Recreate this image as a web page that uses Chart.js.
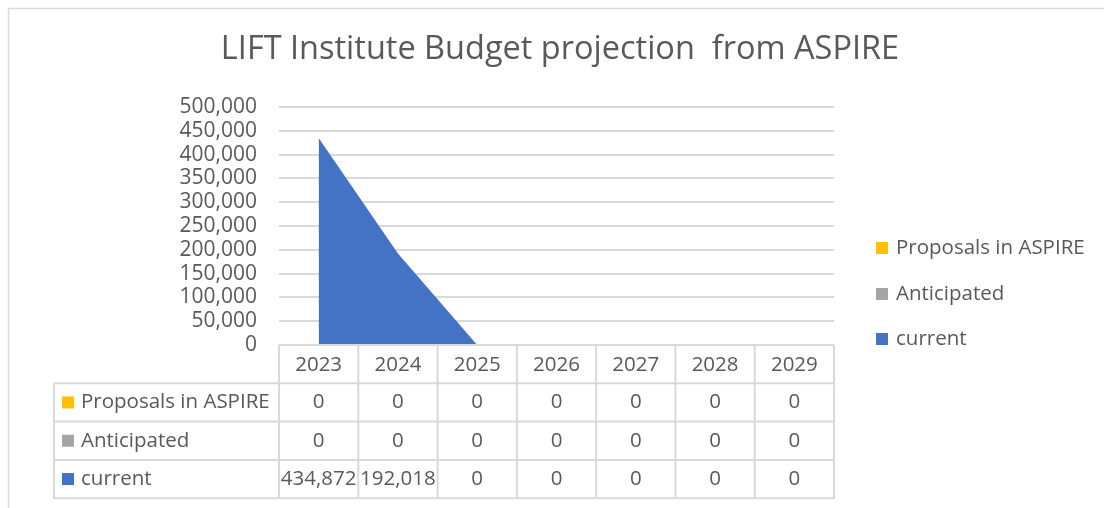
<!DOCTYPE html>
<html>
<head>
<meta charset="utf-8">
<script src="https://cdn.jsdelivr.net/npm/chart.js@4/dist/chart.umd.min.js"></script>
<style>
  body { margin: 0; background: #fff; }
  #wrap { width: 1104px; height: 508px; }
</style>
</head>
<body>
<div id="wrap"><canvas id="budgetChart" width="1104" height="508"></canvas></div>
<script>
// Datos del gráfico
const years = ['2023', '2024', '2025', '2026', '2027', '2028', '2029'];
const current = [434872, 192018, 0, 0, 0, 0, 0];
const anticipated = [0, 0, 0, 0, 0, 0, 0];
const proposals = [0, 0, 0, 0, 0, 0, 0];
const yTicks = [0, 50000, 100000, 150000, 200000, 250000, 300000, 350000, 400000, 450000, 500000];
const chartTitle = 'LIFT Institute Budget projection  from ASPIRE';

const textColor = '#595959';
const lineColor = '#d9d9d9';
const fontFamily = "'Open Sans', 'Noto Sans', sans-serif";

function fmt(n) {
  return n.toLocaleString('en-US');
}

// Fondo, marco exterior y título centrado sobre todo el lienzo
const framePlugin = {
  id: 'frame',
  beforeDraw(chart) {
    const ctx = chart.ctx;
    ctx.save();
    ctx.fillStyle = '#fff';
    ctx.fillRect(0, 0, chart.width, chart.height);
    ctx.strokeStyle = lineColor;
    ctx.lineWidth = 1.5;
    ctx.strokeRect(8.5, 8.5, chart.width + 20, chart.height + 20);
    ctx.font = '32.5px ' + fontFamily;
    ctx.fillStyle = textColor;
    ctx.textAlign = 'center';
    ctx.textBaseline = 'middle';
    ctx.fillText(chartTitle, 560, 50);
    ctx.restore();
  }
};

// Tabla de datos debajo del eje y leyenda a la derecha
const tablePlugin = {
  id: 'dataTable',
  afterDraw(chart) {
    const ctx = chart.ctx;
    const x = chart.scales.x;
    const area = chart.chartArea;
    const n = years.length;
    const half = (x.getPixelForValue(1) - x.getPixelForValue(0)) / 2;
    const left = x.getPixelForValue(0) - half;
    const right = x.getPixelForValue(n - 1) + half;
    const rowH = 38.3;
    const top = area.bottom;
    const bottom = top + rowH * 4;
    const legendLeft = 54;
    const rows = chart.data.datasets.slice().reverse();

    ctx.save();
    ctx.strokeStyle = lineColor;
    ctx.lineWidth = 2;
    ctx.beginPath();
    ctx.moveTo(left, top);
    ctx.lineTo(right, top);
    for (let r = 1; r <= 4; r++) {
      ctx.moveTo(legendLeft, top + rowH * r);
      ctx.lineTo(right, top + rowH * r);
    }
    ctx.moveTo(legendLeft, top + rowH);
    ctx.lineTo(legendLeft, bottom);
    for (let i = 0; i <= n; i++) {
      const bx = left + half * 2 * i;
      ctx.moveTo(bx, top);
      ctx.lineTo(bx, bottom);
    }
    ctx.stroke();

    ctx.font = '20.5px ' + fontFamily;
    ctx.fillStyle = textColor;
    ctx.textBaseline = 'middle';
    ctx.textAlign = 'center';
    years.forEach((yr, i) => {
      ctx.fillText(yr, x.getPixelForValue(i), top + rowH / 2 + 1);
    });

    rows.forEach((ds, r) => {
      const cy = top + rowH * (r + 1) + rowH / 2;
      ctx.fillStyle = ds.backgroundColor;
      ctx.fillRect(62, cy - 6, 12, 12);
      ctx.fillStyle = textColor;
      ctx.textAlign = 'left';
      ctx.fillText(ds.label, 81, cy);
      ctx.textAlign = 'center';
      ds.data.forEach((v, i) => {
        ctx.fillText(fmt(v), x.getPixelForValue(i), cy);
      });
    });

    // Leyenda a la derecha
    const legendY = [248, 294, 339];
    rows.forEach((ds, r) => {
      ctx.fillStyle = ds.backgroundColor;
      ctx.fillRect(876, legendY[r] - 6, 12, 12);
      ctx.fillStyle = textColor;
      ctx.textAlign = 'left';
      ctx.fillText(ds.label, 896, legendY[r]);
    });
    ctx.restore();
  }
};

const ctx = document.getElementById('budgetChart').getContext('2d');
const budgetChart = new Chart(ctx, {
  type: 'line',
  data: {
    labels: years,
    datasets: [
      {
        label: 'current',
        data: current,
        backgroundColor: '#4472c4',
        borderWidth: 0,
        pointRadius: 0,
        fill: 'origin'
      },
      {
        label: 'Anticipated',
        data: anticipated,
        backgroundColor: '#a5a5a5',
        borderWidth: 0,
        pointRadius: 0,
        fill: '-1'
      },
      {
        label: 'Proposals in ASPIRE',
        data: proposals,
        backgroundColor: '#ffc000',
        borderWidth: 0,
        pointRadius: 0,
        fill: '-1'
      }
    ]
  },
  options: {
    responsive: false,
    animation: false,
    layout: { padding: { top: 107, left: 0, right: 270, bottom: 163 } },
    plugins: {
      legend: { display: false },
      tooltip: { enabled: false },
      title: { display: false }
    },
    scales: {
      x: {
        display: false,
        offset: true
      },
      y: {
        stacked: true,
        min: 0,
        max: 500000,
        afterBuildTicks(scale) {
          scale.ticks = yTicks.map(v => ({ value: v }));
        },
        afterFit(scale) {
          scale.width = 279;
        },
        border: { display: false },
        grid: { color: lineColor, lineWidth: 2, drawTicks: false },
        ticks: {
          autoSkip: false,
          padding: 22,
          color: textColor,
          font: { family: fontFamily, size: 21 },
          callback: v => fmt(v)
        }
      }
    }
  },
  plugins: [framePlugin, tablePlugin]
});
</script>
</body>
</html>
